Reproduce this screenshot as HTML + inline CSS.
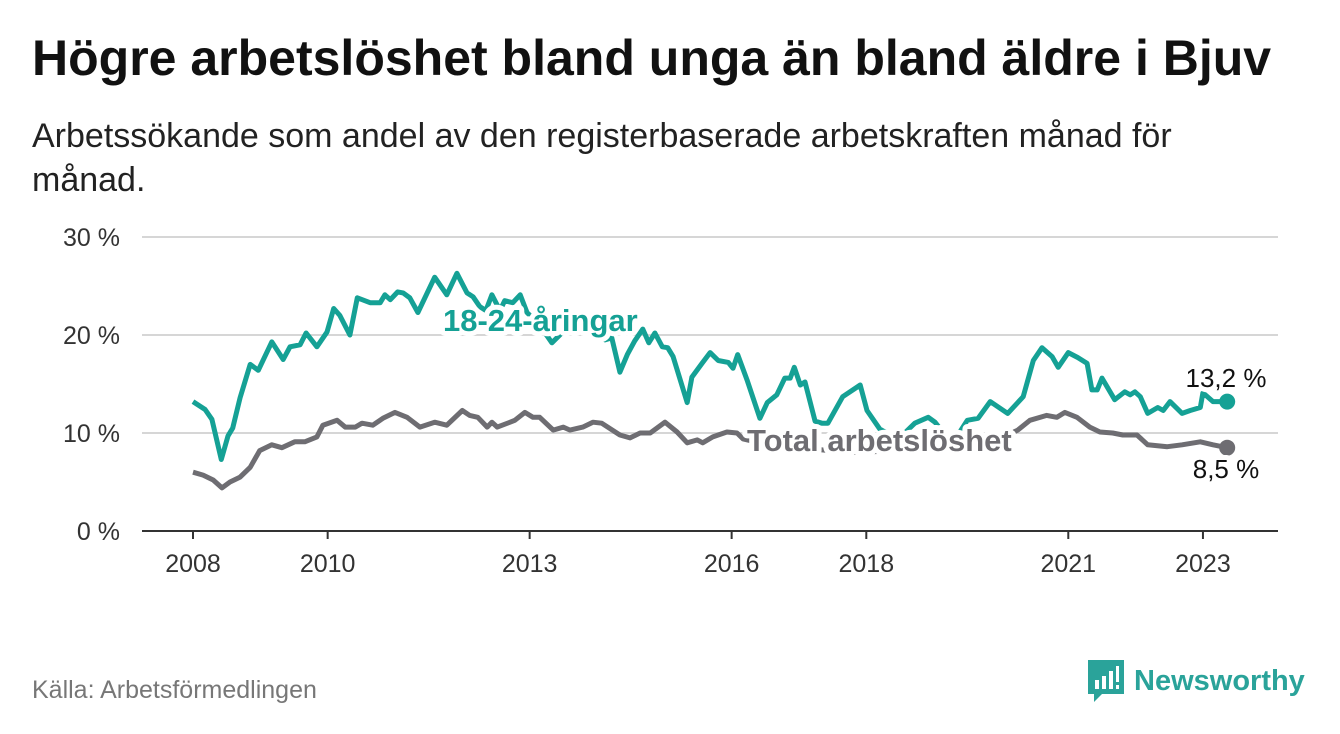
<!DOCTYPE html>
<html><head><meta charset="utf-8">
<style>
body{margin:0;width:1340px;height:734px;background:#fff;overflow:hidden;font-family:"Liberation Sans",sans-serif;}
.t{position:absolute;left:32px;top:29px;font-size:50px;font-weight:bold;color:#111;white-space:nowrap}
.s{position:absolute;left:32px;top:114px;font-size:34px;line-height:44px;color:#222;width:1200px}
.src{position:absolute;left:32px;top:676px;font-size:25px;color:#777}
.logo{position:absolute;left:1088px;top:660px;display:flex;align-items:center}
.logo span{font-size:29px;font-weight:bold;color:#2aa39a;margin-left:10px}
</style></head><body>
<div class="t">Högre arbetslöshet bland unga än bland äldre i Bjuv</div>
<div class="s">Arbetssökande som andel av den registerbaserade arbetskraften månad för månad.</div>
<svg id="c" width="1340" height="734" style="position:absolute;left:0;top:0"></svg>
<div class="src">Källa: Arbetsförmedlingen</div>
<div class="logo">
<svg width="36" height="42"><path d="M0 0H36V34H14L6 42V34H0Z" fill="#2aa39a"/><rect x="7" y="20" width="4" height="9" fill="#fff"/><rect x="14" y="16" width="4" height="13" fill="#fff"/><rect x="21" y="11" width="4" height="18" fill="#fff"/><rect x="28" y="6" width="3" height="16" fill="#fff"/><rect x="28" y="25" width="3" height="4" fill="#fff"/></svg>
<span>Newsworthy</span></div>
<script>
const yTicks=[0,10,20,30];
const xTickLabels=["2008","2010","2013","2016","2018","2021","2023"];
const xTickYears=[2008,2010,2013,2016,2018,2021,2023];
const youthDates=[2008.00,2008.18,2008.28,2008.42,2008.52,2008.59,2008.70,2008.85,2008.97,2009.17,2009.34,2009.44,2009.59,2009.68,2009.84,2009.99,2010.09,2010.18,2010.33,2010.44,2010.63,2010.78,2010.85,2010.93,2011.04,2011.12,2011.22,2011.34,2011.59,2011.77,2011.92,2012.07,2012.16,2012.26,2012.35,2012.44,2012.56,2012.63,2012.75,2012.86,2012.96,2013.15,2013.33,2013.52,2013.75,2013.97,2014.12,2014.22,2014.34,2014.45,2014.56,2014.68,2014.77,2014.86,2014.97,2015.05,2015.13,2015.34,2015.41,2015.56,2015.68,2015.80,2015.95,2016.02,2016.09,2016.23,2016.42,2016.53,2016.67,2016.79,2016.87,2016.93,2017.02,2017.09,2017.24,2017.34,2017.43,2017.65,2017.91,2018.01,2018.20,2018.43,2018.57,2018.72,2018.92,2019.02,2019.17,2019.36,2019.50,2019.66,2019.84,2020.10,2020.33,2020.48,2020.61,2020.76,2020.85,2021.00,2021.14,2021.28,2021.35,2021.43,2021.50,2021.69,2021.84,2021.92,2021.99,2022.07,2022.18,2022.33,2022.41,2022.51,2022.69,2022.81,2022.96,2023.00,2023.15,2023.36];
const youthValues=[13.2,12.4,11.4,7.3,9.7,10.5,13.6,17.0,16.4,19.3,17.5,18.8,19.0,20.2,18.8,20.3,22.7,22.0,20.0,23.8,23.3,23.3,24.1,23.6,24.4,24.3,23.8,22.3,25.9,24.1,26.3,24.3,23.9,22.9,22.5,24.1,22.5,23.5,23.3,24.1,22.3,21.0,19.2,20.5,20.5,20.0,19.5,19.7,16.2,18.0,19.4,20.6,19.2,20.2,18.8,18.7,17.8,13.1,15.7,17.1,18.2,17.4,17.2,16.6,18.0,15.4,11.5,13.1,13.9,15.6,15.6,16.7,14.9,15.2,11.2,11.0,11.0,13.7,14.9,12.3,10.4,9.5,10.0,11.0,11.6,11.1,9.8,9.8,11.3,11.5,13.2,12.0,13.7,17.4,18.7,17.8,16.7,18.2,17.7,17.1,14.4,14.4,15.6,13.4,14.2,13.9,14.2,13.7,12.0,12.6,12.3,13.2,12.0,12.3,12.6,14.1,13.2,13.2];
const totalDates=[2008.00,2008.15,2008.30,2008.43,2008.55,2008.70,2008.85,2008.99,2009.17,2009.32,2009.51,2009.66,2009.84,2009.93,2010.14,2010.26,2010.41,2010.51,2010.67,2010.82,2011.00,2011.18,2011.37,2011.59,2011.77,2012.00,2012.11,2012.23,2012.37,2012.44,2012.52,2012.71,2012.78,2012.93,2013.05,2013.15,2013.35,2013.50,2013.60,2013.79,2013.94,2014.07,2014.34,2014.49,2014.64,2014.79,2015.01,2015.19,2015.34,2015.49,2015.57,2015.72,2015.93,2016.08,2016.17,2016.42,2017.02,2017.76,2018.50,2019.24,2019.84,2020.25,2020.43,2020.68,2020.83,2020.95,2021.13,2021.32,2021.47,2021.66,2021.81,2022.02,2022.18,2022.47,2022.69,2022.96,2023.15,2023.36];
const totalValues=[6.0,5.7,5.2,4.4,5.0,5.5,6.5,8.2,8.8,8.5,9.1,9.1,9.6,10.8,11.3,10.6,10.6,11.0,10.8,11.5,12.1,11.6,10.6,11.1,10.8,12.3,11.8,11.6,10.6,11.1,10.6,11.1,11.3,12.1,11.6,11.6,10.3,10.6,10.3,10.6,11.1,11.0,9.8,9.5,10.0,10.0,11.1,10.1,9.0,9.3,9.0,9.6,10.1,10.0,9.4,9.0,8.5,8.0,8.2,8.5,9.0,10.3,11.3,11.8,11.6,12.1,11.6,10.6,10.1,10.0,9.8,9.8,8.8,8.6,8.8,9.1,8.8,8.5];
const endLabels=["13,2 %","8,5 %"];

const NS="http://www.w3.org/2000/svg";
const svg=document.getElementById('c');
const X=y=>193+(y-2008)*67.33;
const Y=v=>531-v*9.8;
function el(t,a){const e=document.createElementNS(NS,t);for(const k in a)e.setAttribute(k,a[k]);svg.appendChild(e);return e;}
yTicks.forEach(v=>{
  const g=el('line',{x1:142,x2:1278,y1:Y(v),y2:Y(v),stroke:v===0?'#333':'#d6d6d6','stroke-width':2});
  
  
  const t=el('text',{x:120,y:Y(v)+9,'text-anchor':'end','font-size':25,fill:'#333'});
  t.textContent=v+' %';
  
  
});
xTickYears.forEach((yr,i)=>{
  const l=el('line',{x1:X(yr),x2:X(yr),y1:531,y2:539,stroke:'#333','stroke-width':2});
  
  
  const t=el('text',{x:X(yr),y:572,'text-anchor':'middle','font-size':25,fill:'#333'});
  t.textContent=xTickLabels[i];
  
  
});
function line(d,v,col,name){
  const p=el('path',{d:d.map((x,i)=>(i?'L':'M')+X(x).toFixed(1)+' '+Y(v[i]).toFixed(1)).join(''),fill:'none',stroke:col,'stroke-width':5,'stroke-linejoin':'round'});
  
  
  const c=el('circle',{cx:X(d[d.length-1]),cy:Y(v[v.length-1]),r:8,fill:col});
  
  
}
line(totalDates,totalValues,'#6e6d72','total-line');
line(youthDates,youthValues,'#15a195','youth-line');
function lab(txt,x,y,col,size,bold,halo,name,anchor){
  const t=el('text',{x:x,y:y,'font-size':size,'font-weight':bold?'bold':'normal',fill:col,'text-anchor':anchor||'start',stroke:halo?'#fff':'none','stroke-width':halo?10:0,'paint-order':'stroke','stroke-linejoin':'round'});
  t.textContent=txt;
  
  
}
lab('18-24-åringar',443,331,'#15a195',31,true,true,'youth-series-label');
lab('Total arbetslöshet',747,451,'#6e6d72',31,true,true,'total-series-label');
lab(endLabels[0],1226,387,'#111',26,false,true,'youth-end-value','middle');
lab(endLabels[1],1226,478,'#111',26,false,true,'total-end-value','middle');
</script>
</body></html>
